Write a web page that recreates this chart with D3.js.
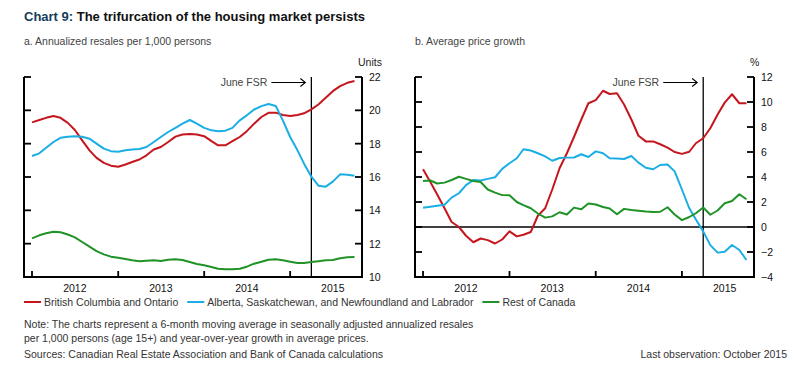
<!DOCTYPE html>
<html>
<head>
<meta charset="utf-8">
<script src="https://cdnjs.cloudflare.com/ajax/libs/d3/7.8.5/d3.min.js"></script>
<style>
  body { margin: 0; background: #fff; }
  svg text { font-family: "Liberation Sans", Arial, sans-serif; }
</style>
</head>
<body>
<div id="chart"></div>
<script>
// monthly observations, Jan 2012 - Oct 2015
var months = d3.timeMonth.range(new Date(2012, 0, 1), new Date(2015, 10, 1));
var years = [2012, 2013, 2014, 2015];
var fsrDate = new Date(2015, 3, 1);

// a. annualized resales per 1,000 persons
var resalesBCON = [19.28, 19.42, 19.55, 19.66, 19.55, 19.25, 18.82, 18.2, 17.6, 17.15, 16.85, 16.68,
    16.62, 16.75, 16.9, 17.05, 17.3, 17.65, 17.8, 18.1, 18.42, 18.55, 18.58, 18.55,
    18.45, 18.15, 17.9, 17.9, 18.15, 18.4, 18.75, 19.2, 19.6, 19.85, 19.86, 19.72,
    19.66, 19.72, 19.82, 20.06, 20.35, 20.75, 21.15, 21.45, 21.65, 21.76];
var resalesABSKNL = [17.26, 17.42, 17.75, 18.1, 18.35, 18.42, 18.45, 18.42, 18.3, 18.0, 17.7, 17.55,
    17.52, 17.6, 17.65, 17.68, 17.8, 18.1, 18.4, 18.7, 18.95, 19.2, 19.42, 19.2,
    18.95, 18.8, 18.75, 18.78, 18.95, 19.4, 19.7, 20.05, 20.25, 20.38, 20.26, 19.4,
    18.4, 17.6, 16.8, 16.02, 15.48, 15.42, 15.72, 16.16, 16.14, 16.08];
var resalesRest = [12.32, 12.5, 12.62, 12.72, 12.68, 12.55, 12.38, 12.1, 11.82, 11.55, 11.36, 11.22,
    11.16, 11.08, 11.0, 10.94, 10.97, 11.0, 10.96, 11.04, 11.06, 11.02, 10.9, 10.78,
    10.7, 10.6, 10.5, 10.46, 10.47, 10.5, 10.62, 10.8, 10.92, 11.04, 11.06, 11.0,
    10.92, 10.84, 10.84, 10.9, 10.95, 11.0, 11.02, 11.12, 11.18, 11.2];

// b. average price growth (%)
var priceBCON = [4.62, 3.6, 2.6, 1.5, 0.4, 0.0, -0.7, -1.22, -0.92, -1.05, -1.32, -1.0,
    -0.35, -0.75, -0.62, -0.4, 0.9, 1.5, 3.0, 4.7, 5.9, 7.2, 8.6, 9.9,
    10.15, 10.9, 10.64, 10.7, 9.8, 8.6, 7.3, 6.85, 6.85, 6.62, 6.35, 6.0,
    5.85, 6.02, 6.7, 7.1, 7.9, 9.0, 9.95, 10.62, 9.9, 9.9];
var priceABSKNL = [1.54, 1.62, 1.7, 1.78, 2.35, 2.7, 3.35, 3.76, 3.72, 3.85, 3.98, 4.65,
    5.1, 5.5, 6.22, 6.12, 5.9, 5.65, 5.3, 5.52, 5.55, 5.56, 5.82, 5.6,
    6.05, 5.9, 5.5, 5.48, 5.44, 5.68, 5.15, 4.74, 4.62, 4.96, 5.0, 4.45,
    3.0, 1.5, 0.6, -0.35, -1.45, -2.05, -1.98, -1.44, -1.84, -2.64];
var priceRest = [3.68, 3.72, 3.48, 3.55, 3.76, 4.02, 3.85, 3.68, 3.6, 3.0, 2.75, 2.55,
    2.54, 2.0, 1.75, 1.5, 1.08, 0.75, 0.85, 1.18, 1.0, 1.55, 1.42, 1.88,
    1.8, 1.6, 1.48, 1.02, 1.45, 1.36, 1.3, 1.24, 1.2, 1.22, 1.58, 1.0,
    0.55, 0.8, 1.1, 1.56, 0.98, 1.32, 1.9, 2.08, 2.62, 2.22];

var seriesNames = ['British Columbia and Ontario',
    'Alberta, Saskatchewan, and Newfoundland and Labrador',
    'Rest of Canada'];
var colors = ['#c5161d', '#1aaee5', '#1f9327'];

var svgWidth = 808;
var svgHeight = 371;

var svg = d3.select('#chart')
    .append('svg')
    .attr('width', svgWidth)
    .attr('height', svgHeight);

// title
var title = svg.append('text')
    .attr('x', 24)
    .attr('y', 21)
    .attr('font-size', 13)
    .attr('font-weight', 'bold')
    .attr('fill', '#111');
title.append('tspan').attr('fill', '#173d5c').text('Chart 9:');
title.append('tspan').text(' The trifurcation of the housing market persists');

var panels = [
    {
        subtitle: 'a. Annualized resales per 1,000 persons',
        unit: 'Units',
        left: 24, right: 362,
        domain: [10, 22],
        ticks: [10, 12, 14, 16, 18, 20, 22],
        series: [resalesBCON, resalesABSKNL, resalesRest],
        zero: false
    },
    {
        subtitle: 'b. Average price growth',
        unit: '%',
        left: 415, right: 754,
        domain: [-4, 12],
        ticks: [-4, -2, 0, 2, 4, 6, 8, 10, 12],
        series: [priceBCON, priceABSKNL, priceRest],
        zero: true
    }
];

var plotTop = 77;
var plotBottom = 277;

function drawPanel(p) {
    var g = svg.append('g');

    var x = d3.scaleTime()
        .domain([new Date(2011, 10, 28), new Date(2015, 10, 2)])
        .range([p.left, p.right]);
    var y = d3.scaleLinear()
        .domain(p.domain)
        .range([plotBottom, plotTop]);

    // subtitle
    g.append('text')
        .attr('x', p.left)
        .attr('y', 45)
        .attr('font-size', 10.5)
        .attr('fill', '#444')
        .text(p.subtitle);

    // unit label
    g.append('text')
        .attr('x', p.right - 4)
        .attr('y', 66)
        .attr('font-size', 10.5)
        .attr('fill', '#222')
        .text(p.unit);

    // zero line
    if (p.zero) {
        g.append('line')
            .attr('x1', p.left).attr('x2', p.right)
            .attr('y1', y(0)).attr('y2', y(0))
            .attr('stroke', '#000')
            .attr('stroke-width', 1.5);
    }

    // June FSR marker
    var fx = x(fsrDate);
    g.append('line')
        .attr('x1', fx).attr('x2', fx)
        .attr('y1', plotTop).attr('y2', plotBottom)
        .attr('stroke', '#000')
        .attr('stroke-width', 1.3);
    g.append('text')
        .attr('x', fx - 44)
        .attr('y', 86)
        .attr('text-anchor', 'end')
        .attr('font-size', 10.5)
        .attr('fill', '#444')
        .text('June FSR');
    g.append('path')
        .attr('d', `M${fx - 40},82.5H${fx - 6}M${fx - 11},78.5L${fx - 6},82.5L${fx - 11},86.5`)
        .attr('fill', 'none')
        .attr('stroke', '#000')
        .attr('stroke-width', 1.1);

    // series lines
    var line = d3.line()
        .x((d, i) => x(months[i]))
        .y(d => y(d));

    p.series.forEach(function (s, i) {
        g.append('path')
            .datum(s)
            .attr('d', line)
            .attr('fill', 'none')
            .attr('stroke', colors[i])
            .attr('stroke-width', 2)
            .attr('stroke-linejoin', 'round');
    });

    // right axis labels
    var rightAxis = d3.axisRight(y)
        .tickValues(p.ticks)
        .tickSize(0)
        .tickPadding(7);
    var axR = g.append('g')
        .attr('transform', `translate(${p.right},0)`)
        .call(rightAxis);
    axR.select('.domain').remove();
    axR.selectAll('text')
        .attr('font-size', 10.5)
        .attr('fill', '#111');
    axR.attr('font-family', null);

    // ticks point inward on both sides
    p.ticks.forEach(function (t) {
        g.append('line')
            .attr('x1', p.left).attr('x2', p.left + 7)
            .attr('y1', y(t)).attr('y2', y(t))
            .attr('stroke', '#000').attr('stroke-width', 1.8);
        g.append('line')
            .attr('x1', p.right - 7).attr('x2', p.right)
            .attr('y1', y(t)).attr('y2', y(t))
            .attr('stroke', '#000').attr('stroke-width', 1.8);
    });

    // frame: left, bottom, right
    g.append('path')
        .attr('d', `M${p.left},${plotTop}V${plotBottom}H${p.right}V${plotTop}`)
        .attr('fill', 'none')
        .attr('stroke', '#000')
        .attr('stroke-width', 2);

    // year ticks on the bottom axis
    years.forEach(function (yr) {
        var tx = x(new Date(yr, 0, 1));
        g.append('line')
            .attr('x1', tx).attr('x2', tx)
            .attr('y1', plotBottom).attr('y2', plotBottom - 6)
            .attr('stroke', '#000').attr('stroke-width', 1.8);
        g.append('text')
            .attr('x', x(new Date(yr, 6, 1)))
            .attr('y', 292)
            .attr('text-anchor', 'middle')
            .attr('font-size', 10.5)
            .attr('fill', '#111')
            .text(yr);
    });
}

panels.forEach(drawPanel);

// legend
var legend = svg.append('g').attr('transform', 'translate(24, 302)');
var lx = 0;
seriesNames.forEach(function (name, i) {
    legend.append('line')
        .attr('x1', lx).attr('x2', lx + 17)
        .attr('y1', 0).attr('y2', 0)
        .attr('stroke', colors[i])
        .attr('stroke-width', 2);
    var t = legend.append('text')
        .attr('x', lx + 20)
        .attr('y', 3.8)
        .attr('font-size', 10.5)
        .attr('fill', '#333')
        .text(name);
    lx += 20 + t.node().getComputedTextLength() + 9;
});

// notes
var notes = [
    'Note: The charts represent a 6-month moving average in seasonally adjusted annualized resales',
    'per 1,000 persons (age 15+) and year-over-year growth in average prices.'
];
notes.forEach(function (n, i) {
    svg.append('text')
        .attr('x', 24)
        .attr('y', 328 + i * 13.5)
        .attr('font-size', 10.5)
        .attr('fill', '#333')
        .text(n);
});
svg.append('text')
    .attr('x', 24)
    .attr('y', 358)
    .attr('font-size', 10.5)
    .attr('fill', '#333')
    .text('Sources: Canadian Real Estate Association and Bank of Canada calculations');
svg.append('text')
    .attr('x', 787)
    .attr('y', 358)
    .attr('text-anchor', 'end')
    .attr('font-size', 10.5)
    .attr('fill', '#333')
    .text('Last observation: October 2015');
</script>
</body>
</html>
